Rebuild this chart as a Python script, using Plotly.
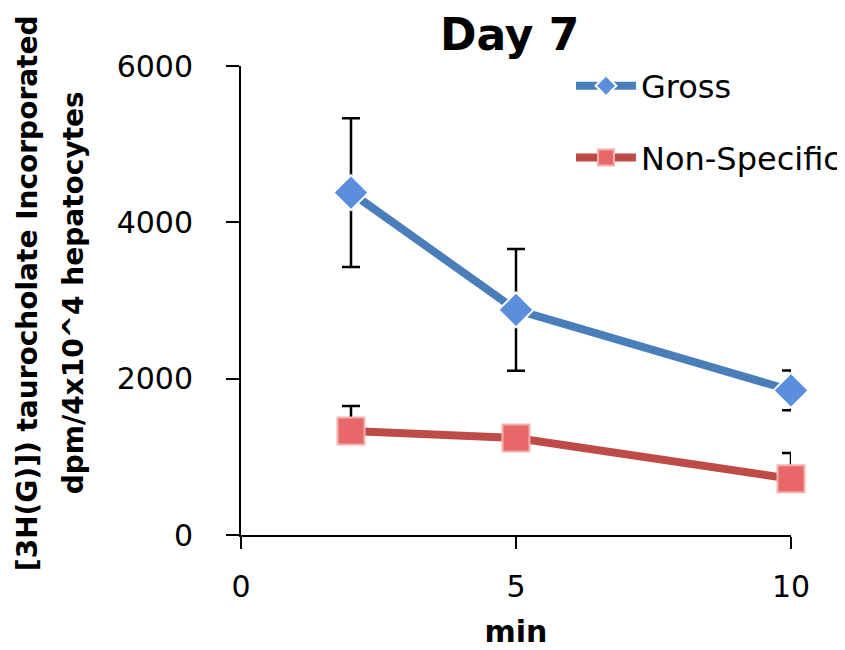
import plotly.graph_objects as go

x_min = [2, 5, 10]
gross = [4380, 2880, 1850]
gross_err = [950, 780, 255]
nonspec = [1330, 1240, 720]
nonspec_err = [320, 0, 330]

FONT = "DejaVu Sans"

fig = go.Figure()
fig.add_trace(go.Scatter(
    x=x_min, y=gross, name="Gross", mode="lines+markers",
    line=dict(color="#4A7EBB", width=8),
    marker=dict(symbol="diamond", size=27, color="#5B8FDB", line=dict(color="white", width=2)),
    error_y=dict(type="data", array=gross_err, color="black", thickness=2.5, width=9),
    legendgroup="g1", cliponaxis=False,
))
fig.add_trace(go.Scatter(
    x=x_min, y=nonspec, name="Non-Specific", mode="lines+markers",
    line=dict(color="#BE4B48", width=8),
    marker=dict(symbol="square", size=27, color="#E8686A", line=dict(color="#F4B0AE", width=2)),
    error_y=dict(type="data", array=nonspec_err, arrayminus=[0, 0, 0], color="black", thickness=2.5, width=9),
    legendgroup="g2", cliponaxis=False,
))

fig.update_layout(
    width=837, height=642,
    margin=dict(l=233, r=54, t=58, b=115, autoexpand=False),
    plot_bgcolor="white", paper_bgcolor="white",
    font=dict(family=FONT, color="black", size=30),
    showlegend=True,
    legend=dict(x=0.6, y=1.016, xanchor="left", yanchor="top", font=dict(size=32),
                tracegroupgap=27, itemwidth=60, bgcolor="rgba(0,0,0,0)"),
    xaxis=dict(range=[0, 10], tickvals=[0, 5, 10], showgrid=False, zeroline=False,
               showline=True, linecolor="black", linewidth=2, ticks="outside",
               ticklen=12, tickwidth=2, tickcolor="black", ticklabelstandoff=12,
               title=dict(text="<b>min</b>", font=dict(size=30), standoff=18)),
    yaxis=dict(range=[0, 6000], tickvals=[0, 2000, 4000, 6000], showgrid=False, zeroline=False,
               showline=True, linecolor="black", linewidth=2, ticks="outside",
               ticklen=13, tickwidth=2, tickcolor="black", ticklabelstandoff=27),
    annotations=[
        dict(text="<b>Day 7</b>", x=0.489, y=1.1237, xref="paper", yref="paper",
             showarrow=False, font=dict(size=44), xanchor="center", yanchor="top", yshift=1),
        dict(text="<b>[3H(G)]) taurocholate Incorporated</b>",
             x=-0.387, y=0.516, xref="paper", yref="paper", textangle=-90,
             showarrow=False, font=dict(size=28), xanchor="center", yanchor="middle"),
        dict(text="<b>dpm/4x10^4 hepatocytes</b>",
             x=-0.303, y=0.516, xref="paper", yref="paper", textangle=-90,
             showarrow=False, font=dict(size=28), xanchor="center", yanchor="middle"),
    ],
)

fig.write_html("out.html")
